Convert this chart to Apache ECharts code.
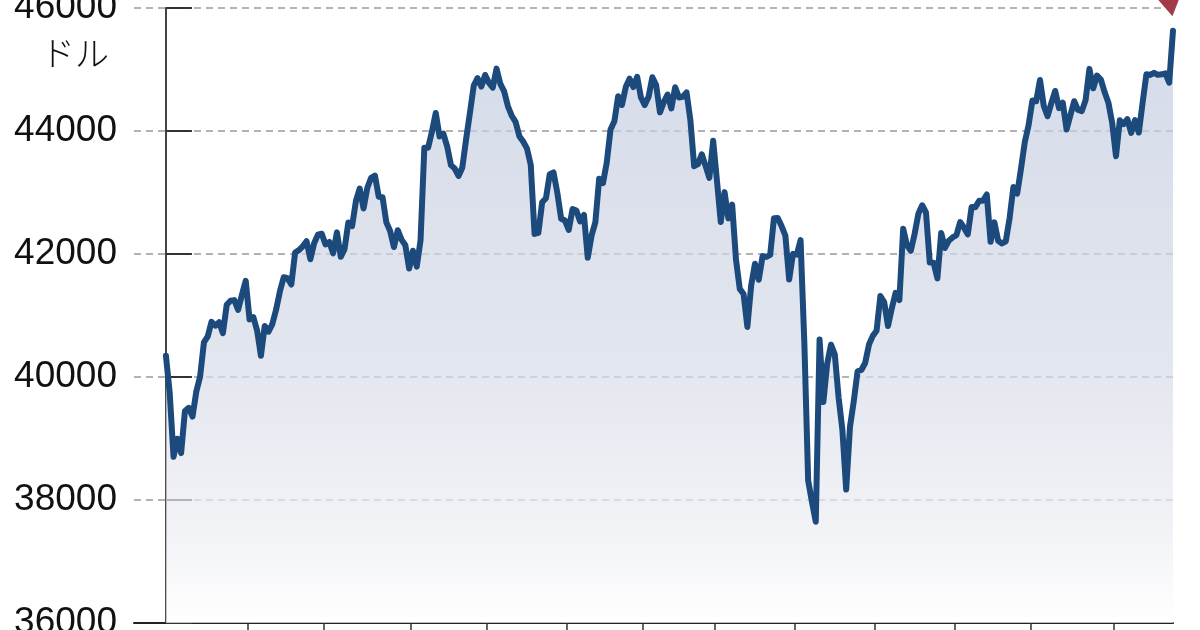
<!DOCTYPE html>
<html><head><meta charset="utf-8">
<script src="https://cdn.jsdelivr.net/npm/echarts@6/dist/echarts.min.js"></script>
<style>html,body{margin:0;padding:0;background:#fff}#c{width:1200px;height:630px}</style>
</head><body><div id="c"></div>
<script>
// Daily closing values (ドル), one array per month
const aug24 = [40347, 39737, 38703, 38997, 38763, 39446, 39498, 39357, 39765, 40008, 40563, 40660, 40897, 40835, 40890, 40713, 41175, 41240, 41250, 41092, 41336, 41563];
const sep24 = [40937, 40975, 40755, 40345, 40830, 40737, 40861, 41097, 41394, 41622, 41606, 41504, 42025, 42063, 42124, 42208, 41915, 42175, 42313, 42330];
const oct24 = [42156, 42196, 42011, 42352, 41954, 42080, 42512, 42454, 42864, 43065, 42740, 43077, 43239, 43275, 42931, 42924, 42514, 42374, 42114, 42387, 42233, 42142, 41763];
const nov24 = [42052, 41794, 42222, 43729, 43729, 43989, 44293, 43911, 43958, 43751, 43445, 43390, 43269, 43408, 43870, 44297, 44737, 44860, 44722, 44911];
const dec24 = [44782, 44706, 45014, 44766, 44643, 44402, 44248, 44149, 43915, 43828, 43717, 43450, 42327, 42343, 42840, 42907, 43297, 43326, 42992, 42574, 42544];
const jan25 = [42392, 42732, 42707, 42528, 42636, 41938, 42297, 42518, 43222, 43153, 43488, 44025, 44157, 44565, 44424, 44714, 44850, 44714, 44882, 44545];
const feb25 = [44422, 44556, 44873, 44747, 44303, 44470, 44593, 44368, 44711, 44546, 44556, 44628, 44177, 43428, 43461, 43621, 43433, 43239, 43841];
const mar25 = [43191, 42520, 43006, 42579, 42802, 41912, 41433, 41350, 40813, 41488, 41842, 41581, 41965, 41953, 41985, 42583, 42587, 42455, 42300, 41584, 42002];
const apr25 = [41989, 42225, 40546, 38315, 37966, 37646, 40608, 39594, 40213, 40525, 40369, 39669, 39142, 38170, 39187, 39607, 40093, 40114, 40228, 40528, 40669];
const may25 = [40753, 41317, 41219, 40829, 41114, 41368, 41249, 42410, 42140, 42051, 42323, 42655, 42792, 42677, 41860, 41859, 41603, 42343, 42098, 42216, 42270];
const jun25 = [42305, 42520, 42428, 42319, 42763, 42762, 42867, 42866, 42968, 42198, 42515, 42215, 42172, 42207, 42582, 43089, 42982, 43386, 43819, 44095];
const jul25 = [44495, 44484, 44829, 44406, 44241, 44458, 44651, 44371, 44460, 44023, 44255, 44484, 44342, 44323, 44502, 45010, 44694, 44902, 44838, 44633, 44461, 44131];
const aug25 = [43589, 44174, 44112, 44193, 43968, 44176, 43975, 44459, 44922, 44911, 44946, 44912, 44922, 44938, 44785, 45632];

const yTicks = [36000, 38000, 40000, 42000, 44000, 46000];
const unitLabel = 'ドル';

const months = [aug24, sep24, oct24, nov24, dec24, jan25, feb25, mar25, apr25, may25, jun25, jul25, aug25];
const closes = months.flat();
const monthTicks = [];
let acc = 0;
months.slice(0, -1).forEach(m => { acc += m.length; monthTicks.push(acc - 0.5); });
const points = closes.map((v, i) => [i, v]);
const lastPoint = points[points.length - 1];

const chart = echarts.init(document.getElementById('c'));
chart.setOption({
  animation: false,
  backgroundColor: '#fff',
  grid: { left: 134, right: 27, top: 8, bottom: 7, containLabel: false, outerBoundsMode: 'none' },
  graphic: [{
    type: 'text',
    left: 41,
    top: 36,
    style: { text: unitLabel, fontSize: 34, fill: '#111', fontFamily: "'Noto Sans CJK JP', sans-serif", fontWeight: 300 }
  }],
  xAxis: {
    type: 'value',
    min: -8.4,
    max: closes.length - 1,
    axisLine: { show: true, onZero: false, lineStyle: { color: '#222', width: 2 } },
    axisTick: { show: true, customValues: monthTicks, length: 10, lineStyle: { color: '#333', width: 1.5 } },
    axisLabel: { show: false },
    splitLine: { show: false }
  },
  yAxis: {
    type: 'value',
    min: yTicks[0],
    max: yTicks[yTicks.length - 1],
    interval: 2000,
    axisLine: { show: true, lineStyle: { color: '#444', width: 2 } },
    axisTick: { show: true, inside: true, length: 26, lineStyle: { color: '#333', width: 2 } },
    axisLabel: {
      fontSize: 37, color: '#111', margin: 17,
      fontFamily: "'Liberation Sans Narrow', 'Liberation Sans', Arial, sans-serif",
      formatter: v => String(v)
    },
    splitLine: { show: true, lineStyle: { type: [7, 5], color: '#9a9a9a', width: 1.5 } }
  },
  series: [{
    type: 'line',
    data: points,
    symbol: 'none',
    showSymbol: false,
    lineStyle: { color: '#1c4a7c', width: 6, cap: 'round', join: 'round' },
    areaStyle: {
      color: {
        type: 'linear', x: 0, y: 0, x2: 0, y2: 1,
        colorStops: [
          { offset: 0, color: '#c2cbe0' },
          { offset: 0.55, color: '#d6dbe7' },
          { offset: 0.85, color: '#eceef3' },
          { offset: 0.97, color: '#fbfbfc' },
          { offset: 1, color: '#ffffff' }
        ]
      }
    },
    markPoint: {
      silent: true,
      data: [{
        coord: lastPoint,
        symbol: 'triangle',
        symbolSize: [48, 40],
        symbolRotate: 190,
        symbolOffset: [-4, -34],
        itemStyle: { color: '#a33a48' },
        label: { show: false }
      }]
    }
  }]
});
</script>
</body></html>
